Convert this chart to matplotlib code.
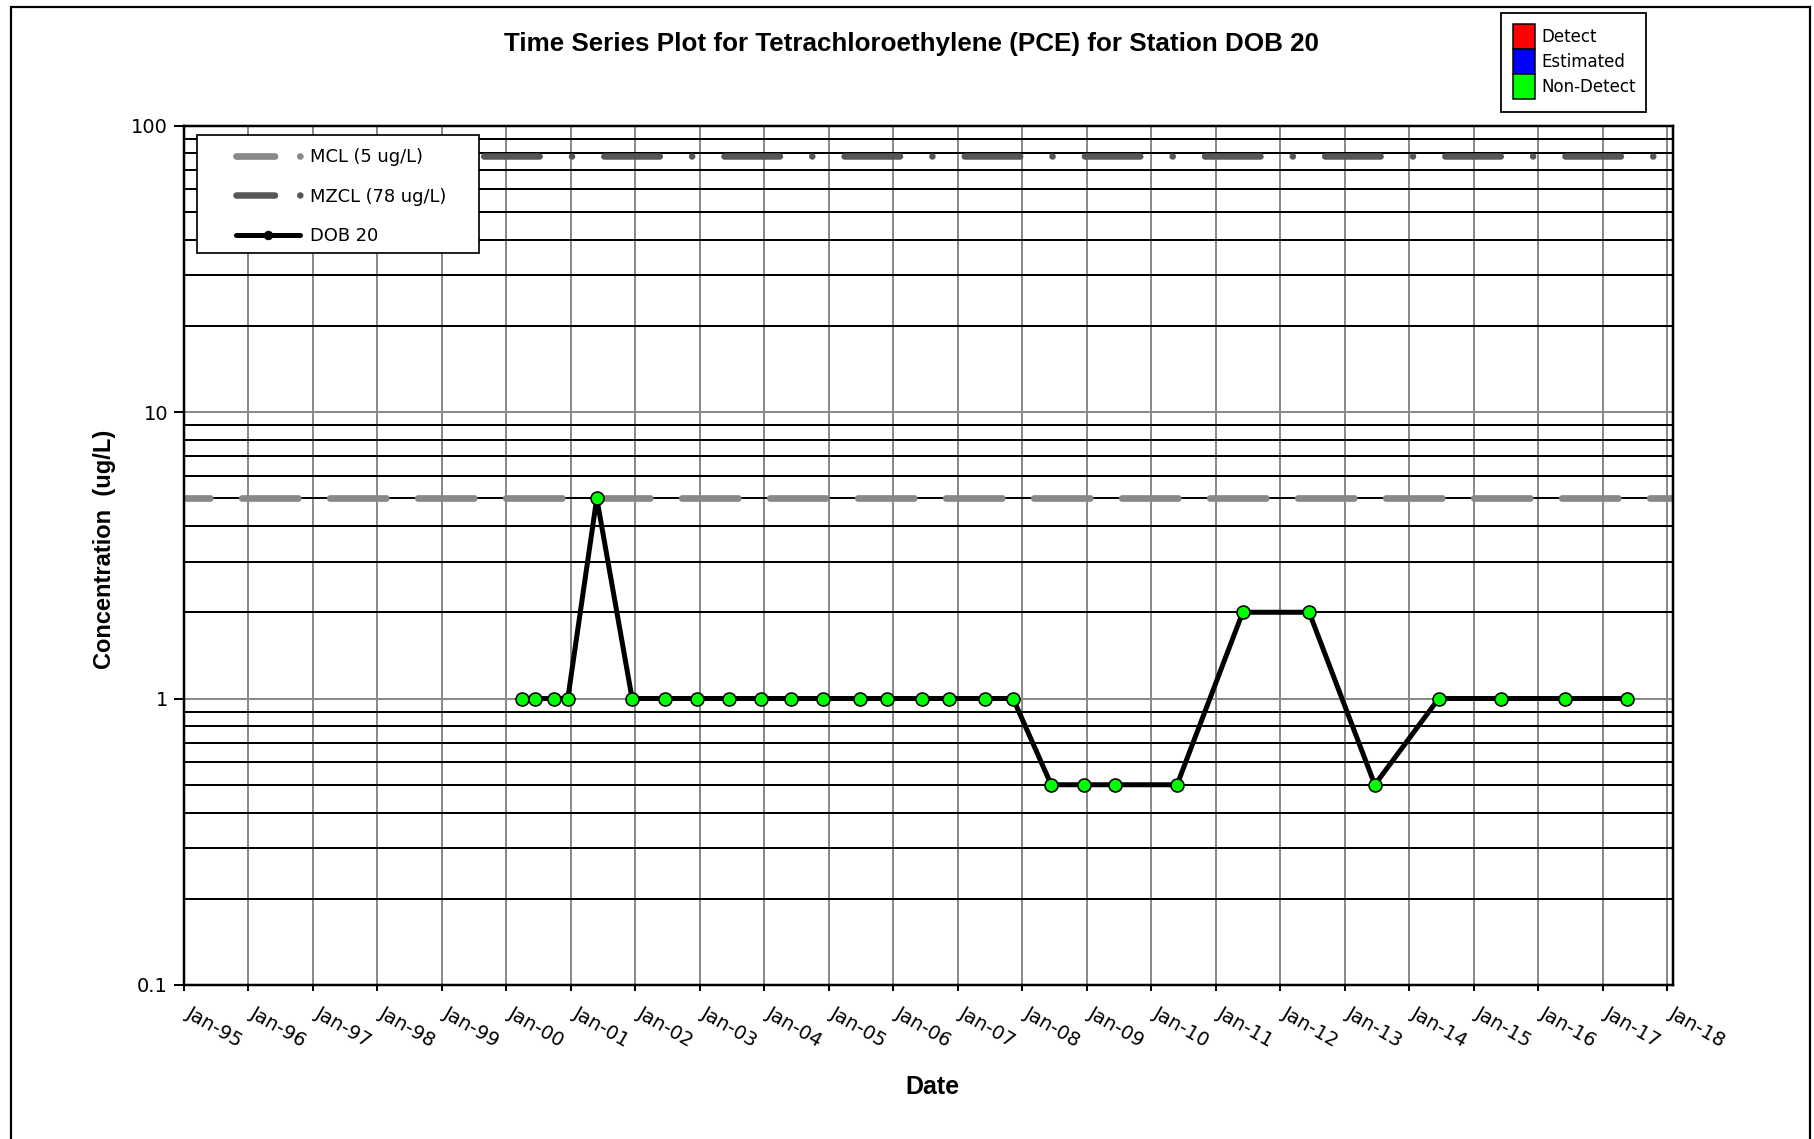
import numpy as np
import pandas as pd
import matplotlib
matplotlib.use('Agg')
import matplotlib.pyplot as plt
import matplotlib.transforms as mtransforms
from matplotlib.lines import Line2D
from matplotlib.patches import Patch, Rectangle
from matplotlib.ticker import FixedLocator, NullFormatter, FixedFormatter

# ---------------- data ----------------
sample_dates = [
    "2000-03-28", "2000-06-13", "2000-09-24", "2000-12-14", "2001-05-27",
    "2001-12-13", "2002-06-20", "2002-12-16", "2003-06-17", "2003-12-13",
    "2004-06-02", "2004-11-28", "2005-06-25", "2005-11-28", "2006-06-10",
    "2006-11-13", "2007-06-06", "2007-11-10", "2008-06-13", "2008-12-13",
    "2009-06-10", "2010-05-27", "2011-06-03", "2012-06-13", "2013-06-20",
    "2014-06-17", "2015-06-06", "2016-05-30", "2017-05-19",
]
pce_ugL = [
    1, 1, 1, 1, 5,
    1, 1, 1, 1, 1,
    1, 1, 1, 1, 1,
    1, 1, 1, 0.5, 0.5,
    0.5, 0.5, 2, 2, 0.5,
    1, 1, 1, 1,
]
mcl_value = 5
mzcl_value = 78
year_ticks = pd.date_range("1995-01-01", "2018-01-01", freq="YS")
x_tick_labels = [d.strftime("%b-%y") for d in year_ticks]
y_major = [0.1, 1, 10, 100]
y_major_labels = ["0.1", "1", "10", "100"]
x_start, x_end = "1995-01-01", "2018-02-03"
title = "Time Series Plot for Tetrachloroethylene (PCE) for Station DOB 20"
legend_labels = ["MCL (5 ug/L)", "MZCL (78 ug/L)", "DOB 20"]
status_labels = ["Detect", "Estimated", "Non-Detect"]
status_colors = ["#ff0000", "#0000ff", "#00ff00"]

# ---------------- style ----------------
W, H, DPI = 1814, 1139, 100
PX = 72.0 / DPI  # points per pixel
plt.rcParams['lines.scale_dashes'] = False
plt.rcParams['font.family'] = ['DejaVu Sans']

GRID_GRAY = "#8a8a8a"
MCL_GRAY = "#888888"
MZCL_GRAY = "#565656"
BOLD_FAMILY = ['Liberation Sans', 'DejaVu Sans']

fig = plt.figure(figsize=(W / DPI, H / DPI), dpi=DPI)
ax_l, ax_r, ax_t, ax_b = 184, 1673, 125.5, 985
ax = fig.add_axes([ax_l / W, 1 - ax_b / H, (ax_r - ax_l) / W, (ax_b - ax_t) / H])

dates = pd.to_datetime(sample_dates).to_pydatetime()

ax.set_yscale('log')
ax.set_ylim(0.1, 100)
ax.set_xlim(pd.Timestamp(x_start).to_pydatetime(), pd.Timestamp(x_end).to_pydatetime())

# y ticks
ax.yaxis.set_major_locator(FixedLocator(y_major))
ax.yaxis.set_major_formatter(FixedFormatter(y_major_labels))
minor_vals = [m * 10.0 ** e for e in (-1, 0, 1) for m in range(2, 10)]
ax.yaxis.set_minor_locator(FixedLocator(minor_vals))
ax.yaxis.set_minor_formatter(NullFormatter())

ax.tick_params(axis='y', which='major', direction='out', length=10 * PX,
               width=2 * PX, pad=6 * PX, labelsize=14)
ax.tick_params(axis='y', which='minor', length=0)
ax.tick_params(axis='x', which='major', direction='out', length=6 * PX,
               width=2 * PX, pad=13 * PX)

# x ticks
ax.set_xticks(list(year_ticks.to_pydatetime()))
ax.set_xticklabels(x_tick_labels, rotation=-30, ha='left', va='top',
                   rotation_mode='anchor', fontsize=14)
shift = mtransforms.ScaledTranslation(8 / DPI, 0, fig.dpi_scale_trans)
for lab in ax.get_xticklabels():
    lab.set_transform(lab.get_transform() + shift)

for s in ax.spines.values():
    s.set_linewidth(2.5 * PX)
    s.set_color('black')

ax.set_axisbelow(True)
ax.grid(which='major', axis='x', color=GRID_GRAY, linewidth=2 * PX)
ax.grid(which='major', axis='y', color=GRID_GRAY, linewidth=2 * PX)
ax.grid(which='minor', axis='y', color='black', linewidth=2 * PX)

# MCL line (dashes)
mcl_lw = 6.7
ax.axhline(mcl_value, color=MCL_GRAY, linewidth=mcl_lw * PX,
           linestyle=(30.35 * PX, (56.3 * PX, 31.7 * PX)),
           dash_capstyle='round', zorder=2)

# MZCL line (dash-dot)
mz_lw = 6.5
ax.axhline(mzcl_value, color=MZCL_GRAY, linewidth=mz_lw * PX,
           linestyle=(60.75 * PX, (55.5 * PX, 32.25 * PX, 0.1, 32.25 * PX)),
           dash_capstyle='round', zorder=2)

# data series
ax.plot(dates, pce_ugL, color='black', linewidth=5 * PX, marker='o',
        markersize=13 * PX, markerfacecolor=status_colors[2],
        markeredgecolor='black', markeredgewidth=1.6 * PX, zorder=3,
        solid_joinstyle='round', solid_capstyle='round')

# ---------------- left legend ----------------
fs_leg = 12.9
fs_leg_px = fs_leg / PX
h_len_px = 64.0
h_mcl = Line2D([], [], color=MCL_GRAY, linewidth=mcl_lw * PX, dash_capstyle='round',
               linestyle=(0, (38.5 * PX, 25.25 * PX, 0.1, 200)))
h_mzcl = Line2D([], [], color=MZCL_GRAY, linewidth=mz_lw * PX, dash_capstyle='round',
                linestyle=(0, (38.5 * PX, 25.25 * PX, 0.1, 200)))
h_dob = Line2D([], [], color='black', linewidth=5 * PX, marker='o',
               markersize=8 * PX, markerfacecolor='black', markeredgecolor='black',
               solid_capstyle='round')
box = Rectangle((197 / W, 1 - 253 / H), (479 - 197) / W, (253 - 135) / H,
                transform=fig.transFigure, facecolor='white', edgecolor='black',
                linewidth=1.7 * PX, zorder=4, clip_on=False)
ax.add_artist(box)
leg1 = ax.legend([h_mcl, h_mzcl, h_dob], legend_labels,
                 loc='upper left', bbox_to_anchor=(236.25 / W, 1 - 148.5 / H),
                 bbox_transform=fig.transFigure, frameon=False, borderpad=0,
                 borderaxespad=0, fontsize=fs_leg, handlelength=h_len_px / fs_leg_px,
                 handletextpad=9.75 / fs_leg_px, labelspacing=1.18, numpoints=1)
leg1.set_zorder(5)

# ---------------- status legend ----------------
fig.add_artist(Rectangle((1501 / W, 1 - 112 / H), (1646 - 1501) / W, (112 - 13) / H,
                         transform=fig.transFigure, facecolor='white',
                         edgecolor='black', linewidth=1.8 * PX, zorder=1))
status_handles = [Patch(facecolor=c, edgecolor='black', linewidth=1.5 * PX)
                  for c in status_colors]
leg2 = fig.legend(status_handles, status_labels, loc='upper left',
                  bbox_to_anchor=(1513 / W, 1 - 24.5 / H), bbox_transform=fig.transFigure,
                  borderaxespad=0, fontsize=12, handlelength=1.32, handleheight=1.93,
                  labelspacing=0, handletextpad=0.40, borderpad=0,
                  frameon=False)
leg2.set_zorder(5)

# ---------------- texts ----------------
fig.text(912 / W, 1 - 43.5 / H, title, ha='center', va='center', fontsize=18.7,
         fontweight='bold', family=BOLD_FAMILY)
fig.text(104 / W, 1 - 549.5 / H, "Concentration  (ug/L)", rotation=90, ha='center',
         va='center', fontsize=17, fontweight='bold', family=BOLD_FAMILY)
fig.text(932 / W, 1 - 1087 / H, "Date", ha='center', va='center', fontsize=18,
         fontweight='bold', family=BOLD_FAMILY)

# outer frame
fig.add_artist(Rectangle((11 / W, -0.05), (1810 - 11) / W, 1.05 - 7 / H,
                         transform=fig.transFigure, fill=False, edgecolor='black',
                         linewidth=2.2 * PX))

fig.savefig("out.png", dpi=DPI)
